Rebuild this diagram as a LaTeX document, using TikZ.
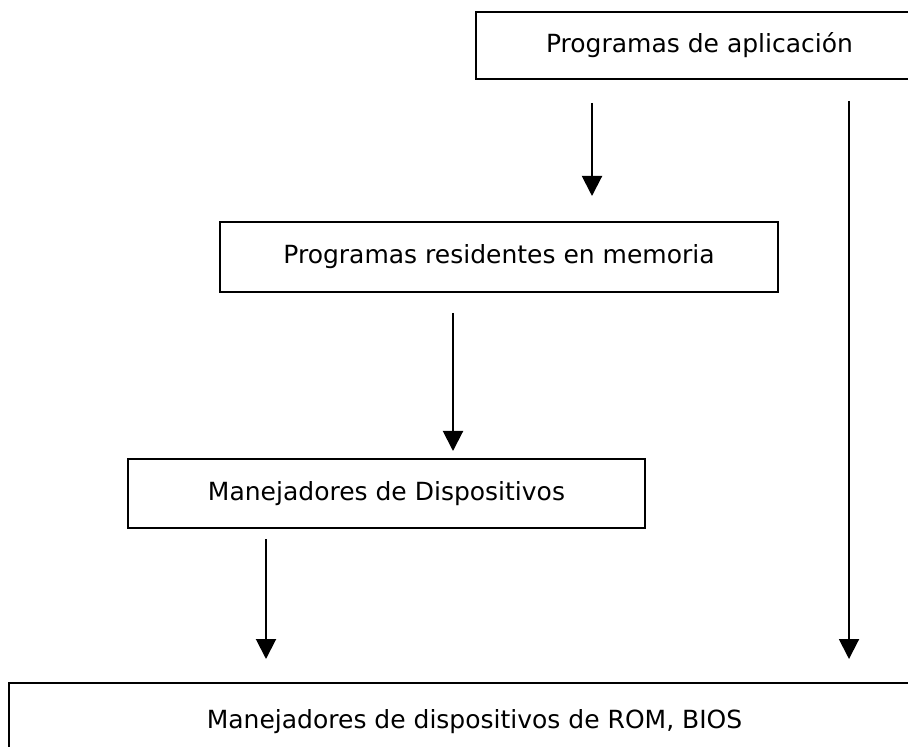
\documentclass[tikz,border=0pt]{standalone}
\usepackage{fontspec}
\setmainfont{DejaVu Sans}
\usetikzlibrary{arrows.meta}

\begin{document}
\begin{tikzpicture}
  [
    x = 0.5pt, y = -0.5pt,
    caja/.style = {draw, line width=1pt, inner sep=0pt,
                   font=\fontsize{12.5}{14}\selectfont},
    flecha/.style = {line width=1pt, -{Triangle[width=10pt, length=10pt]}}
  ]
  \path[use as bounding box, clip] (0,0) rectangle (908,747);

  % cajas
  \node[caja, minimum width=223.5pt, minimum height=33.5pt] (App) at (699.5,45.5) {Programas de aplicación};
  \node[caja, minimum width=279pt, minimum height=35pt] (Res) at (499,257) {Programas residentes en memoria};
  \node[caja, minimum width=258.5pt, minimum height=34.5pt] (Man) at (386.5,493.5) {Manejadores de Dispositivos};
  \node[caja, minimum width=465.5pt, minimum height=39pt] (Bios) at (474.5,722) {Manejadores de dispositivos de ROM, BIOS};

  % columnas de las flechas
  \coordinate (CA) at (592,0);
  \coordinate (CB) at (849,0);
  \coordinate (CC) at (453,0);
  \coordinate (CD) at (266,0);

  \draw[flecha, shorten <=11.5pt, shorten >=12.5pt] (App.south -| CA) -- (Res.north -| CA);
  \draw[flecha, shorten <=10.5pt, shorten >=11.5pt] (App.south -| CB) -- (Bios.north -| CB);
  \draw[flecha, shorten <=10pt, shorten >=3.5pt] (Res.south -| CC) -- (Man.north -| CC);
  \draw[flecha, shorten <=5pt, shorten >=11.5pt] (Man.south -| CD) -- (Bios.north -| CD);
\end{tikzpicture}
\end{document}
